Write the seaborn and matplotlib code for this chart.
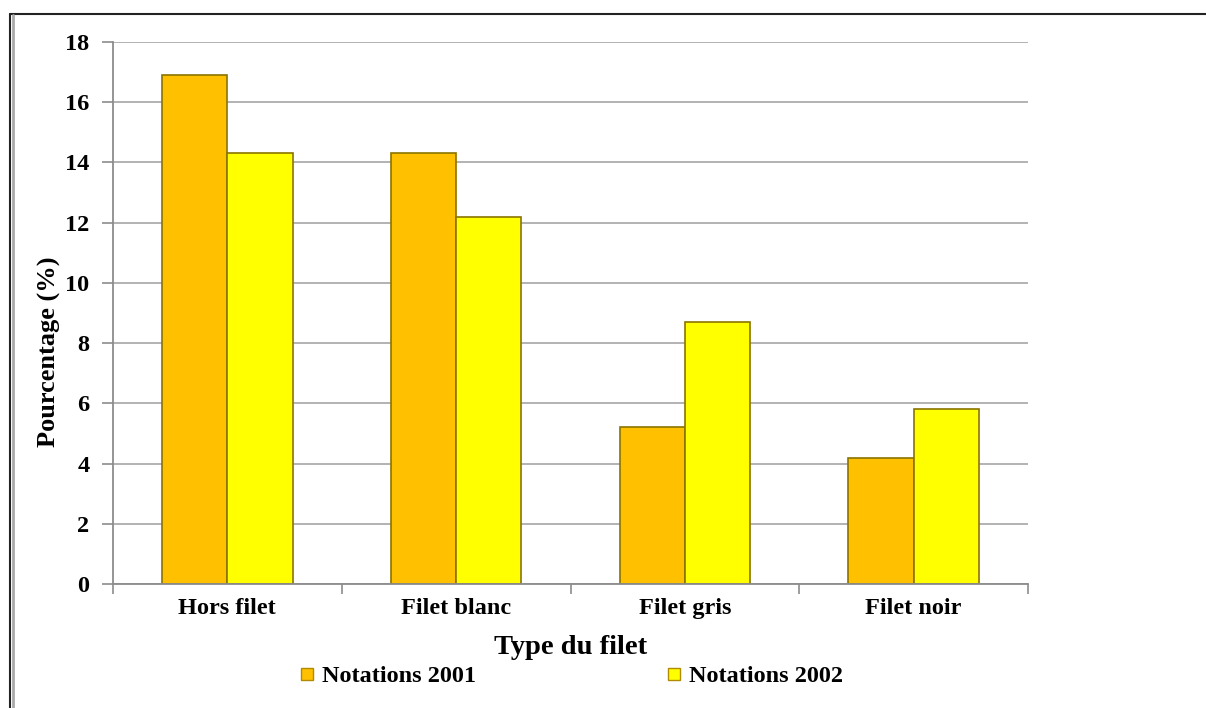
import matplotlib
matplotlib.use("Agg")
import matplotlib.pyplot as plt
import seaborn as sns
import pandas as pd
from matplotlib.lines import Line2D

categories = ["Hors filet", "Filet blanc", "Filet gris", "Filet noir"]
series = ["Notations 2001", "Notations 2002"]
values_2001 = [16.9, 14.3, 5.2, 4.2]
values_2002 = [14.3, 12.2, 8.7, 5.8]
colors = ["#FFC000", "#FFFF00"]

df = pd.DataFrame({
    "cat": categories * 2,
    "serie": [series[0]] * 4 + [series[1]] * 4,
    "val": values_2001 + values_2002,
})

sns.set_theme(style="white")
plt.rcParams["font.family"] = ["Liberation Serif", "DejaVu Serif"]
plt.rcParams["font.weight"] = "bold"
plt.rcParams["text.color"] = "black"
plt.rcParams["axes.labelcolor"] = "black"

fig = plt.figure(figsize=(12.06, 7.08), dpi=100)
ax = fig.add_axes([113/1206, 1 - 584/708, (1028-113)/1206, (584-42)/708])

sns.barplot(data=df, x="cat", y="val", hue="serie", order=categories,
            hue_order=series, palette=colors, width=0.57, ax=ax,
            edgecolor="#8a7400", linewidth=1.2, legend=False, saturation=1)

ax.set_ylim(0, 18)
ax.set_xlim(-0.5, 3.5)
ax.set_yticks(range(0, 19, 2))
ax.yaxis.grid(True, color="#a6a6a6", linewidth=1.2)
ax.set_axisbelow(True)
for s in ["top", "right"]:
    ax.spines[s].set_visible(False)
for s in ["left", "bottom"]:
    ax.spines[s].set_color("#8c8c8c")
    ax.spines[s].set_linewidth(1.3)

ax.tick_params(axis="y", which="major", length=8, color="#8c8c8c", width=1.2,
               labelsize=17.5, pad=9, left=True, labelcolor="black")
ax.set_xticks([-0.5, 0.5, 1.5, 2.5, 3.5], minor=True)
ax.tick_params(axis="x", which="minor", length=7, color="#8c8c8c", width=1.2, bottom=True)
ax.tick_params(axis="x", which="major", length=0, labelsize=17.5, pad=10, labelcolor="black")
for lbl in ax.get_yticklabels() + ax.get_xticklabels():
    lbl.set_fontweight("bold")

ax.set_ylabel("Pourcentage (%)", fontsize=19, fontweight="bold", color="black")
ax.yaxis.set_label_coords(-0.069, 0.428)
ax.yaxis.label.set_va("center")
ax.set_xlabel("Type du filet", fontsize=20.5, fontweight="bold", color="black")
ax.xaxis.set_label_coords(0.5, -0.118)
ax.xaxis.label.set_va("center")

handles = [Line2D([0], [0], marker="s", linestyle="none", markersize=9,
                  markerfacecolor=c, markeredgecolor="#b08a00") for c in colors]
fig.legend(handles, series, loc="center left", bbox_to_anchor=(300/1206, 1 - 676/708),
           ncol=2, frameon=False, columnspacing=7.85, handletextpad=0.3,
           handlelength=0.6, borderpad=0, borderaxespad=0,
           prop={"family": "Liberation Serif", "weight": "bold", "size": 17.5})

# outer frame
fig.add_artist(Line2D([10/1206, 1], [1 - 14/708, 1 - 14/708], transform=fig.transFigure,
                      color="#222222", linewidth=1.5))
fig.add_artist(Line2D([10/1206, 10/1206], [0, 1 - 14/708], transform=fig.transFigure,
                      color="#222222", linewidth=1.5))
fig.add_artist(Line2D([13/1206, 13/1206], [0, 1 - 15/708], transform=fig.transFigure,
                      color="#aaaaaa", linewidth=2))

fig.savefig("out.png", dpi=100)
